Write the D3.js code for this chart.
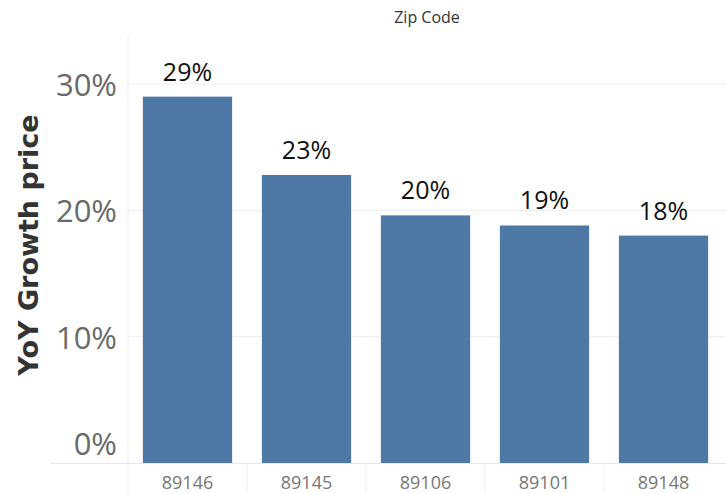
<!DOCTYPE html>
<html>
<head>
<meta charset="utf-8">
<script src="https://cdn.jsdelivr.net/npm/d3@7"></script>
<style>
  html, body { margin: 0; padding: 0; background: #fff; }
  svg { display: block; }
</style>
</head>
<body>
<svg id="chart" width="726" height="493"></svg>
<script>
// YoY price growth by zip code
const zipCodes = ["89146", "89145", "89106", "89101", "89148"];
const growthPct = [29.0, 22.8, 19.6, 18.8, 18.0];
const yTicks = [0, 10, 20, 30];

const width = 726, height = 493;
const svg = d3.select("#chart");

const plotLeft = 128, plotRight = 723;
const plotTop = 35, baseline = 463;

const x = d3.scaleBand()
  .domain(zipCodes)
  .range([plotLeft, plotRight])
  .paddingInner(0.25)
  .paddingOuter(0.125);

const y = d3.scaleLinear()
  .domain([0, 30])
  .range([baseline, 84]);

// gridlines
svg.append("g")
  .selectAll("line")
  .data(yTicks.filter(d => d > 0))
  .join("line")
  .attr("x1", plotLeft).attr("x2", width)
  .attr("y1", d => y(d)).attr("y2", d => y(d))
  .attr("stroke", "#efefef").attr("stroke-width", 1);

// column separators in the header band below the baseline
svg.append("g")
  .selectAll("line")
  .data(zipCodes.slice(1))
  .join("line")
  .attr("x1", d => x(d) - x.step() * x.paddingInner() / 2)
  .attr("x2", d => x(d) - x.step() * x.paddingInner() / 2)
  .attr("y1", baseline).attr("y2", height)
  .attr("stroke", "#f0f0f0");

// left axis rule
svg.append("line")
  .attr("x1", plotLeft).attr("x2", plotLeft)
  .attr("y1", plotTop).attr("y2", height)
  .attr("stroke", "#ececec");

// bars
svg.append("g")
  .selectAll("rect")
  .data(zipCodes)
  .join("rect")
  .attr("x", d => x(d))
  .attr("width", x.bandwidth())
  .attr("y", (d, i) => y(growthPct[i]))
  .attr("height", (d, i) => baseline - y(growthPct[i]))
  .attr("fill", "#4e78a6");

// baseline
svg.append("line")
  .attr("x1", 50).attr("x2", width)
  .attr("y1", baseline + 0.5).attr("y2", baseline + 0.5)
  .attr("stroke", "#e8e8e8");

// value labels
svg.append("g")
  .selectAll("text")
  .data(zipCodes)
  .join("text")
  .attr("x", d => x(d) + x.bandwidth() / 2)
  .attr("y", (d, i) => y(growthPct[i]) - 16)
  .attr("text-anchor", "middle")
  .attr("font-family", "'Open Sans', sans-serif")
  .attr("font-size", 25)
  .attr("fill", "#111")
  .text((d, i) => d3.format(".0f")(growthPct[i]) + "%");

// y tick labels
svg.append("g")
  .selectAll("text")
  .data(yTicks)
  .join("text")
  .attr("x", 117)
  .attr("y", d => d === 0 ? y(d) - 8 : y(d) + 12)
  .attr("text-anchor", "end")
  .attr("font-family", "'Open Sans', sans-serif")
  .attr("font-size", 31)
  .attr("fill", "#6a6a6a")
  .text(d => d + "%");

// x tick labels
svg.append("g")
  .selectAll("text")
  .data(zipCodes)
  .join("text")
  .attr("x", d => x(d) + x.bandwidth() / 2)
  .attr("y", 489)
  .attr("text-anchor", "middle")
  .attr("font-family", "'Open Sans', sans-serif")
  .attr("font-size", 18)
  .attr("fill", "#777")
  .text(d => d);

// y axis title
svg.append("text")
  .attr("transform", "translate(38,245) rotate(-90)")
  .attr("text-anchor", "middle")
  .attr("font-family", "'DejaVu Sans', sans-serif")
  .attr("font-weight", "bold")
  .attr("font-size", 27)
  .attr("fill", "#333")
  .text("YoY Growth price");

// column header title
svg.append("text")
  .attr("x", 427)
  .attr("y", 23)
  .attr("text-anchor", "middle")
  .attr("font-family", "'Open Sans', sans-serif")
  .attr("font-size", 16)
  .attr("fill", "#333")
  .text("Zip Code");
</script>
</body>
</html>
